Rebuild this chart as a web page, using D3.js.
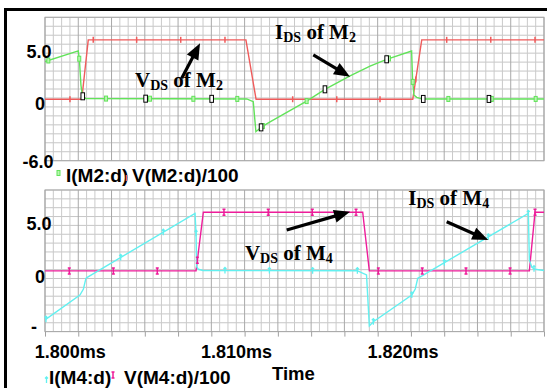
<!DOCTYPE html>
<html><head><meta charset="utf-8">
<script src="https://cdn.jsdelivr.net/npm/d3@7"></script>
<style>body{margin:0;background:#fff;}svg{display:block;}</style>
</head><body>
<svg id="c" width="547" height="388"></svg>
<script>
// ---- data (time in microseconds) ----
const xDomain = [1798, 1828];
const xLabelTicks = [1800, 1810, 1820];
const xLabels = ["1.800ms", "1.810ms", "1.820ms"];
const yTicks = [5, 0, -6];
const topYLabels = ["5.0", "0", "-6.0"];
const botYLabels = ["5.0", "0", "-"];

// I(M2:d)
const iM2T = [1798.0, 1800.0, 1800.07, 1800.16, 1800.25, 1800.46, 1810.13, 1810.52, 1810.68, 1811.03, 1811.53, 1813.73, 1814.83, 1816.34, 1817.54, 1818.54, 1820.04, 1820.10, 1820.18, 1820.35, 1820.67, 1828.0];
const iM2V = [3.68, 4.72, 3.83, 1.39, 0.31, 0.07, 0.03, -0.24, -3.17, -2.69, -2.20, -0.18, 0.97, 2.27, 3.24, 3.90, 4.71, 1.88, 0.41, 0.19, 0.03, 0.03];
// V(M2:d)/100
const vM2T = [1798.0, 1800.21, 1800.60, 1810.08, 1810.69, 1820.11, 1820.65, 1828.0];
const vM2V = [0, 0, 5.8, 5.8, 0, 0, 5.8, 5.8];
// I(M4:d)
const iM4T = [1798.0, 1800.10, 1800.31, 1800.46, 1800.54, 1807.02, 1807.08, 1807.12, 1807.22, 1807.50, 1816.77, 1817.33, 1817.50, 1817.74, 1820.05, 1820.26, 1820.41, 1820.51, 1827.06, 1827.12, 1827.27, 1827.46, 1828.0];
const iM4V = [-4.85, -2.38, -1.79, -0.73, -0.63, 5.69, 3.72, 0.42, 0.16, 0.04, 0.02, -0.40, -5.44, -5.02, -2.38, -1.79, -0.73, -0.63, 5.69, 1.08, 0.36, 0.16, 0.04];
// V(M4:d)/100
const vM4T = [1798.0, 1807.08, 1807.52, 1817.10, 1817.50, 1827.12, 1827.46, 1828.0];
const vM4V = [0, 0, 5.8, 5.8, 0, 0, 5.8, 5.8];

// trace symbol positions (times)
const vM2Marks = [1799.50, 1800.90, 1803.51, 1806.16, 1808.82, 1812.89, 1815.54, 1818.14, 1820.29, 1822.15, 1824.80, 1827.46];
const iM2Marks = [1798.20, 1800.06, 1801.67, 1804.31, 1806.92, 1809.56, 1811.10, 1813.73, 1818.68, 1820.11, 1822.25, 1824.86, 1827.50];
const cursorMarks = [1800.27, 1804.05, 1808.02, 1810.99, 1814.83, 1818.54, 1820.74, 1824.69];
const vM4Marks = [1799.46, 1802.11, 1804.75, 1807.16, 1808.76, 1811.42, 1814.07, 1816.70, 1818.04, 1820.68, 1823.31, 1825.96, 1827.46];
const iM4Marks = [1798.06, 1802.55, 1805.11, 1807.08, 1808.82, 1811.49, 1814.09, 1816.78, 1817.74, 1820.05, 1822.01, 1824.65, 1827.06, 1827.40];

const C = {red:"#ef5b5b", green:"#62e35a", mag:"#ee1c9a", cyan:"#62f0f0"};

const svg = d3.select("#c");
svg.append("rect").attr("width",547).attr("height",388).attr("fill","#fff");

const X0 = 45, X1 = 544;
const x = d3.scaleLinear().domain(xDomain).range([X0, X1]);
const yTop = d3.scaleLinear().domain([-6, 8]).range([160.7, 17.3]);
const yBot = d3.scaleLinear().domain([-6, 8]).range([331.6, 190.0]);

function grid(y) {
  const g = svg.append("g");
  const [b, t] = y.range();
  d3.range(17).forEach(i => {
    const yy = t + (b - t) * i / 16;
    g.append("line").attr("x1", X0).attr("x2", X1).attr("y1", yy).attr("y2", yy)
      .attr("stroke", "#c6c6c6").attr("stroke-width", 1);
  });
  d3.range(61).forEach(k => {
    const xx = x(xDomain[0] + k * 0.5);
    g.append("line").attr("x1", xx).attr("x2", xx).attr("y1", t).attr("y2", b)
      .attr("stroke", k % 4 === 0 ? "#a9a9a9" : "#cacaca").attr("stroke-width", 1);
  });
  g.append("rect").attr("x", X0).attr("y", t).attr("width", X1 - X0).attr("height", b - t)
    .attr("fill", "none").attr("stroke", "#a8a8a8");
}
grid(yTop); grid(yBot);

function clip(id, y) {
  const [b, t] = y.range();
  svg.append("clipPath").attr("id", id).append("rect")
    .attr("x", X0).attr("y", t - 2).attr("width", X1 - X0 + 3).attr("height", b - t + 4);
}
clip("cTop", yTop); clip("cBot", yBot);

function trace(T, V, y, color, cl) {
  const line = d3.line().x(d => x(d[0])).y(d => y(d[1]));
  svg.append("path").attr("d", line(d3.zip(T, V))).attr("fill", "none")
    .attr("stroke", color).attr("stroke-width", 1.4).attr("clip-path", `url(#${cl})`);
}
trace(vM2T, vM2V, yTop, C.red, "cTop");
trace(iM2T, iM2V, yTop, C.green, "cTop");
trace(vM4T, vM4V, yBot, C.mag, "cBot");
trace(iM4T, iM4V, yBot, C.cyan, "cBot");

function interp(T, V) { return d3.scaleLinear().domain(T).range(V).clamp(true); }

function sym(g, kind, cx, cy) {
  if (kind === "red") {
    g.append("line").attr("x1", cx).attr("x2", cx).attr("y1", cy - 3).attr("y2", cy + 3)
      .attr("stroke", C.red).attr("stroke-width", 1.5);
  } else if (kind === "green") {
    g.append("rect").attr("x", cx - 1.5).attr("y", cy - 2.5).attr("width", 3).attr("height", 5)
      .attr("fill", "#b8f5b0").attr("stroke", C.green).attr("stroke-width", 1);
  } else if (kind === "black") {
    g.append("rect").attr("x", cx - 1.8).attr("y", cy - 3.5).attr("width", 3.6).attr("height", 7)
      .attr("fill", "#fff").attr("stroke", "#000").attr("stroke-width", 1);
  } else if (kind === "mag") {
    g.append("path").attr("d", `M${cx-1.5},${cy-3}H${cx+1.5}M${cx},${cy-3}V${cy+3}M${cx-1.5},${cy+3}H${cx+1.5}`)
      .attr("stroke", C.mag).attr("stroke-width", 1.5).attr("fill", "none");
  } else if (kind === "cyan") {
    g.append("path").attr("d", `M${cx},${cy-3}V${cy+3}M${cx-1.5},${cy-1.5}L${cx},${cy-3}L${cx+1.5},${cy-1.5}`)
      .attr("stroke", C.cyan).attr("stroke-width", 1.3).attr("fill", "none");
  }
}
function marks(times, T, V, y, kind) {
  const f = interp(T, V);
  const g = svg.append("g");
  times.forEach(t => sym(g, kind, x(t), y(f(t))));
}
marks(vM2Marks, vM2T, vM2V, yTop, "red");
marks(iM2Marks, iM2T, iM2V, yTop, "green");
marks(cursorMarks, iM2T, iM2V, yTop, "black");
marks(vM4Marks, vM4T, vM4V, yBot, "mag");
marks(iM4Marks, iM4T, iM4V, yBot, "cyan");

// axes
const axisFont = "bold 18px 'Liberation Sans', Arial, sans-serif";
function yAxis(y, labels, dyMap, xMap) {
  const ax = d3.axisLeft(y).tickValues(yTicks).tickSize(0)
    .tickFormat((d, i) => labels[i]);
  const g = svg.append("g").attr("transform", `translate(${X0},0)`).call(ax);
  g.select(".domain").remove();
  g.selectAll("text").style("font", axisFont).attr("fill", "#000")
    .attr("text-anchor", "middle")
    .attr("x", (d, i) => xMap[i])
    .attr("dy", (d, i) => dyMap[i]);
}
yAxis(yTop, topYLabels, [9.6, 10.7, 7.0], [-6, -5, -7]);
yAxis(yBot, botYLabels, [9.4, 11.6, 0.5], [-6, -5, -11]);

const xa = d3.axisBottom(x).tickValues(d3.range(1798, 1829, 2)).tickSize(5).tickSizeOuter(0)
  .tickPadding(9)
  .tickFormat(d => { const i = xLabelTicks.indexOf(d); return i >= 0 ? xLabels[i] : ""; });
const gx = svg.append("g").attr("transform", `translate(0,${yBot.range()[0]})`).call(xa);
gx.select(".domain").remove();
gx.selectAll("line").attr("stroke", "#a0a0a0");
gx.selectAll("text").style("font", axisFont).attr("fill", "#000").attr("dx", -8.5);

// legends
const legFont = "bold 19px 'Liberation Sans', Arial, sans-serif";
function legText(tx, ty, s) {
  svg.append("text").attr("x", tx).attr("y", ty).text(s).style("font", legFont).attr("fill", "#000");
}
legText(66, 182, "I(M2:d)");
legText(132, 182, "V(M2:d)/100");
sym(svg, "green", 58.5, 173);
sym(svg, "red", 126.5, 178);
legText(49, 384, "I(M4:d)");
legText(124, 384, "V(M4:d)/100");
sym(svg, "cyan", 46.5, 380);
sym(svg, "mag", 113, 375);
svg.append("text").attr("x", 272).attr("y", 380).text("Time")
  .style("font", "bold 18.5px 'Liberation Sans', Arial, sans-serif").attr("fill", "#000");

// annotations (placed in data coordinates)
const annFont = "'Liberation Serif', 'Times New Roman', serif";
function ann(t, v, y, main, sub1, mid, sub2) {
  const tx = svg.append("text").attr("x", x(t)).attr("y", y(v))
    .style("font-family", annFont).style("font-weight", "bold").style("font-size", "21px").attr("fill", "#000");
  tx.append("tspan").text(main);
  tx.append("tspan").text(sub1).style("font-size", "14px").attr("dy", 3);
  tx.append("tspan").text(mid).attr("dy", -3);
  tx.append("tspan").text(sub2).style("font-size", "14px").attr("dy", 3);
}
ann(1803.41, 1.19, yTop, "V", "DS", " of M", "2");
ann(1811.83, 5.84, yTop, "I", "DS", " of M", "2");
ann(1810.02, 1.06, yBot, "V", "DS", " of M", "4");
ann(1819.84, 6.48, yBot, "I", "DS", " of M", "4");

function arrow(t0, v0, t1, v1, y) {
  const ax0 = x(t0), ay0 = y(v0), ax1 = x(t1), ay1 = y(v1);
  const dx = ax1 - ax0, dy = ay1 - ay0, L = Math.hypot(dx, dy);
  const ux = dx / L, uy = dy / L, hl = 16, hw = 6.5;
  const bx = ax1 - ux * hl, by = ay1 - uy * hl;
  svg.append("line").attr("x1", ax0).attr("y1", ay0).attr("x2", bx + ux * 2).attr("y2", by + uy * 2)
    .attr("stroke", "#000").attr("stroke-width", 3.2);
  svg.append("path").attr("d", `M${ax1},${ay1}L${bx - uy * hw},${by + ux * hw}L${bx + uy * hw},${by - ux * hw}Z`)
    .attr("fill", "#000");
}
arrow(1806.22, 2.04, 1807.32, 5.46, yTop);
arrow(1814.13, 4.32, 1816.34, 2.20, yTop);
arrow(1812.53, 4.04, 1816.34, 5.85, yBot);
arrow(1822.15, 4.86, 1824.65, 3.05, yBot);

// outer frame
svg.append("path").attr("d", "M5.5,388V9.5H547").attr("fill", "none")
  .attr("stroke", "#000").attr("stroke-width", 3);
</script>
</body></html>
